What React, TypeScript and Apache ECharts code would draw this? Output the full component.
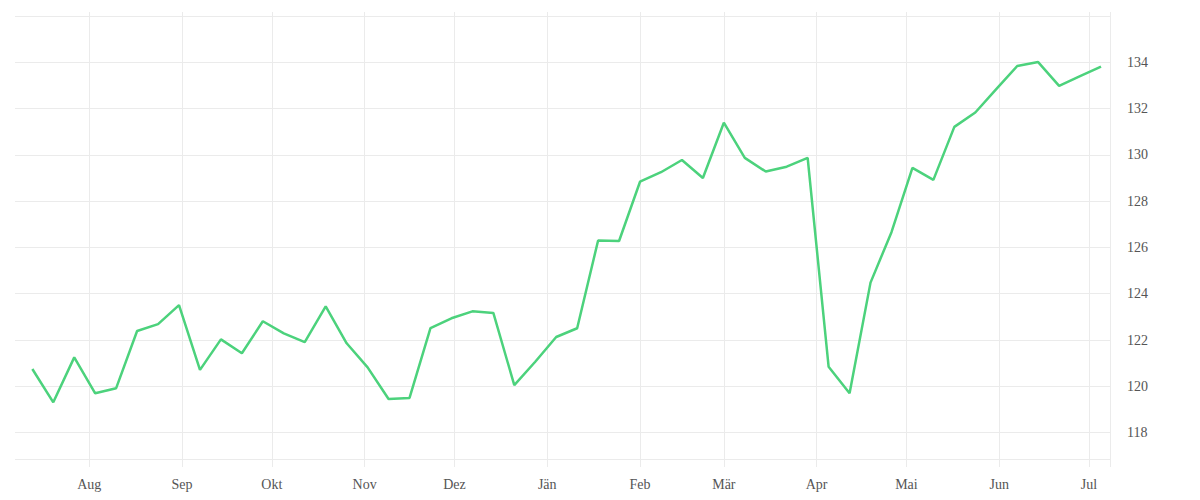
import { useEffect, useRef } from 'react';
import * as echarts from 'echarts';

// ─── Data ─────────────────────────────────────────────────────────────────────

const DATES = [
  '2022-07-13', '2022-07-20', '2022-07-27', '2022-08-03', '2022-08-10', '2022-08-17',
  '2022-08-24', '2022-08-31', '2022-09-07', '2022-09-14', '2022-09-21', '2022-09-28',
  '2022-10-05', '2022-10-12', '2022-10-19', '2022-10-26', '2022-11-02', '2022-11-09',
  '2022-11-16', '2022-11-23', '2022-11-30', '2022-12-07', '2022-12-14', '2022-12-21',
  '2022-12-28', '2023-01-04', '2023-01-11', '2023-01-18', '2023-01-25', '2023-02-01',
  '2023-02-08', '2023-02-15', '2023-02-22', '2023-03-01', '2023-03-08', '2023-03-15',
  '2023-03-22', '2023-03-29', '2023-04-05', '2023-04-12', '2023-04-19', '2023-04-26',
  '2023-05-03', '2023-05-10', '2023-05-17', '2023-05-24', '2023-05-31', '2023-06-07',
  '2023-06-14', '2023-06-21', '2023-06-28', '2023-07-05',
];

const VALUES = [
  120.75, 119.31, 121.25, 119.7, 119.92, 122.39, 122.69, 123.51, 120.71, 122.03,
  121.43, 122.81, 122.29, 121.91, 123.45, 121.86, 120.82, 119.45, 119.5, 122.51,
  122.94, 123.24, 123.17, 120.05, 121.06, 122.13, 122.51, 126.3, 126.28, 128.84,
  129.25, 129.78, 129.0, 131.39, 129.87, 129.28, 129.49, 129.87, 120.85, 119.7,
  124.48, 126.66, 129.44, 128.92, 131.21, 131.83, 132.84, 133.84, 134.01, 132.98,
  133.4, 133.81,
];

// month starts that get a grid line and a label
const MONTH_TICKS = [
  '2022-08-01', '2022-09-01', '2022-10-01', '2022-11-01', '2022-12-01', '2023-01-01',
  '2023-02-01', '2023-03-01', '2023-04-01', '2023-05-01', '2023-06-01', '2023-07-01',
];

const MONTHS = ['Jän', 'Feb', 'Mär', 'Apr', 'Mai', 'Jun', 'Jul', 'Aug', 'Sep', 'Okt', 'Nov', 'Dez'];

const X_MIN = '2022-07-07T05:00:00';
const X_MAX = '2023-07-08T00:00:00';
const Y_MIN = 116.86;
const Y_MAX = 136;

// ─── Style ────────────────────────────────────────────────────────────────────

const GRID_COLOR = '#ebebeb';
const LABEL_COLOR = '#555';
const LINE_COLOR = '#4cd27c';
const FONT = '"Liberation Serif", "DejaVu Serif", serif';

const ts = (d: string) => +echarts.time.parse(d);

function buildOption(): echarts.EChartsOption {
  // x is a plain value axis over timestamps so the ticks can be pinned to month starts
  const xMin = ts(X_MIN);
  const xMax = ts(X_MAX);
  const monthTicks = MONTH_TICKS.map(ts);
  const edgeTicks = [...monthTicks, xMax];
  const monthLabel = (v: number) => MONTHS[new Date(v).getMonth()];

  return {
    animation: false,
    backgroundColor: '#fff',
    grid: { left: 15, right: 90, top: 16, bottom: 41, containLabel: false },
    xAxis: [
      {
        type: 'value',
        min: xMin,
        max: xMax,
        axisLine: { show: false },
        axisTick: {
          show: true,
          length: 8,
          customValues: edgeTicks,
          lineStyle: { color: GRID_COLOR },
        },
        splitLine: { show: true, lineStyle: { color: GRID_COLOR, width: 1 } },
        axisLabel: {
          customValues: monthTicks,
          formatter: monthLabel,
          color: LABEL_COLOR,
          fontFamily: FONT,
          fontSize: 14,
          margin: 18,
          hideOverlap: false,
        },
      },
      {
        type: 'value',
        position: 'top',
        min: xMin,
        max: xMax,
        axisLine: { show: false },
        axisTick: {
          show: true,
          length: 4,
          customValues: edgeTicks,
          lineStyle: { color: GRID_COLOR },
        },
        splitLine: { show: false },
        axisLabel: { show: false },
      },
    ],
    yAxis: {
      type: 'value',
      position: 'right',
      min: Y_MIN,
      max: Y_MAX,
      splitNumber: 10,
      minInterval: 2,
      maxInterval: 2,
      axisLine: { show: true, lineStyle: { color: GRID_COLOR } },
      axisTick: { show: false },
      splitLine: { show: true, lineStyle: { color: GRID_COLOR, width: 1 } },
      axisLabel: {
        color: LABEL_COLOR,
        fontFamily: FONT,
        fontSize: 14,
        margin: 17,
        showMinLabel: false,
        showMaxLabel: false,
      },
    },
    series: [
      {
        type: 'line',
        xAxisIndex: 0,
        data: DATES.map((d, i) => [ts(d), VALUES[i]]),
        showSymbol: false,
        symbol: 'none',
        lineStyle: { color: LINE_COLOR, width: 2.5 },
        itemStyle: { color: LINE_COLOR },
      },
    ],
  };
}

// ─── Component ────────────────────────────────────────────────────────────────

export default function App() {
  const containerRef = useRef<HTMLDivElement>(null);

  useEffect(() => {
    document.body.style.margin = '0';
    if (!containerRef.current) return;
    const chart = echarts.init(containerRef.current, null, { renderer: 'svg' });
    chart.setOption(buildOption());
    return () => chart.dispose();
  }, []);

  return <div ref={containerRef} style={{ width: 1200, height: 500 }} />;
}
